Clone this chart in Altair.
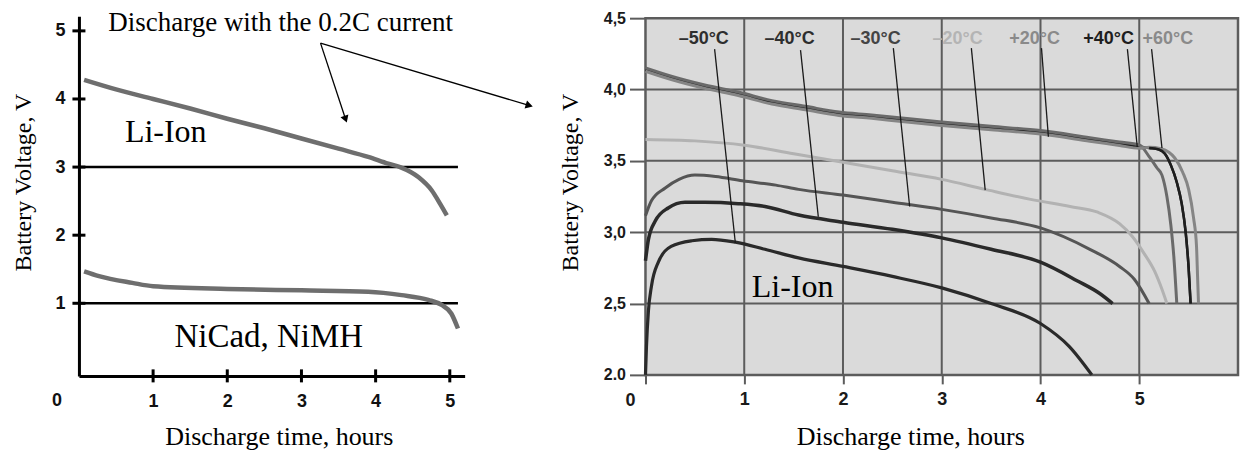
import altair as alt
import pandas as pd

# ---------------- left chart data ----------------
li_t = [0.07, 0.5, 1.0, 1.5, 2.0, 2.5, 3.0, 3.5, 3.9, 4.17, 4.33, 4.58, 4.755, 4.87, 4.96]
li_v = [4.28, 4.14, 4.00, 3.86, 3.71, 3.57, 3.42, 3.27, 3.15, 3.05, 3.00, 2.85, 2.66, 2.46, 2.29]
ni_t = [0.07, 0.27, 0.72, 1.0, 2.0, 3.0, 3.9, 4.35, 4.71, 4.89, 5.02, 5.11]
ni_v = [1.47, 1.40, 1.30, 1.25, 1.21, 1.19, 1.17, 1.12, 1.05, 0.975, 0.85, 0.63]
left_ticks = [1, 2, 3, 4, 5]
ref_levels = [3, 1]
ref_end = 5.11

left_texts = ["Discharge with the 0.2C current", "Li-Ion", "NiCad, NiMH"]
left_text_t = [2.72, 1.17, 2.56]
left_text_v = [5.11, 3.514, 0.506]
left_text_size = [27, 32, 33]

arrow_from_t = [3.257, 3.257]
arrow_from_v = [4.82, 4.82]
arrow_to_t = [3.59, 6.056]
arrow_to_v = [3.72, 3.91]
arrow_angle = [161, 107]

# ---------------- right chart data ----------------
band_t = [0, 0.27, 0.6, 0.94, 1.28, 1.62, 1.96, 2.29, 2.57, 3.0, 3.5, 4.0, 4.5, 4.8, 5.0]
band_v = [4.14, 4.08, 4.02, 3.97, 3.91, 3.87, 3.83, 3.81, 3.79, 3.76, 3.73, 3.70, 3.65, 3.62, 3.60]

m50_t = [0.0, 0.01, 0.03, 0.06, 0.13, 0.26, 0.47, 0.67, 0.91, 1.21, 1.55, 2.0, 2.5, 3.0, 3.5, 4.0, 4.29, 4.52]
m50_v = [2.0, 2.2, 2.45, 2.62, 2.79, 2.9, 2.94, 2.95, 2.93, 2.88, 2.82, 2.76, 2.69, 2.61, 2.50, 2.36, 2.2, 2.0]
m40_t = [0.0, 0.03, 0.1, 0.23, 0.4, 0.6, 0.94, 1.21, 1.55, 2.0, 2.5, 3.0, 3.5, 4.0, 4.37, 4.6, 4.73]
m40_v = [2.8, 2.95, 3.08, 3.17, 3.21, 3.21, 3.2, 3.18, 3.12, 3.07, 3.02, 2.96, 2.88, 2.79, 2.66, 2.57, 2.5]
m30_t = [0.0, 0.06, 0.2, 0.34, 0.5, 0.71, 0.98, 1.32, 1.55, 2.0, 2.5, 3.0, 3.5, 4.0, 4.5, 4.8, 4.95, 5.1]
m30_v = [3.115, 3.22, 3.31, 3.37, 3.40, 3.39, 3.36, 3.33, 3.30, 3.26, 3.21, 3.16, 3.10, 3.03, 2.88, 2.76, 2.67, 2.5]
m20_t = [0.0, 0.5, 1.0, 1.5, 2.0, 2.5, 3.0, 3.44, 3.9, 4.3, 4.58, 4.8, 4.93, 5.05, 5.16, 5.23, 5.28]
m20_v = [3.65, 3.64, 3.61, 3.55, 3.49, 3.43, 3.37, 3.30, 3.23, 3.18, 3.14, 3.06, 2.97, 2.85, 2.72, 2.6, 2.5]
p20_tail_t = [5.1, 5.18, 5.23, 5.28, 5.32, 5.35, 5.38]
p20_tail_v = [3.53, 3.45, 3.40, 3.25, 3.05, 2.83, 2.5]
p40_tail_t = [5.1, 5.2, 5.26, 5.32, 5.38, 5.43, 5.47, 5.5, 5.52]
p40_tail_v = [3.59, 3.58, 3.55, 3.47, 3.35, 3.20, 3.0, 2.75, 2.5]
p60_tail_t = [5.1, 5.22, 5.3, 5.36, 5.44, 5.5, 5.55, 5.58, 5.59, 5.6]
p60_tail_v = [3.595, 3.585, 3.56, 3.52, 3.42, 3.3, 3.1, 2.9, 2.7, 2.5]

temp_labels = ["\u201350\u00b0C", "\u201340\u00b0C", "\u201330\u00b0C", "\u201320\u00b0C", "+20\u00b0C", "+40\u00b0C", "+60\u00b0C"]
temp_label_t = [0.59, 1.46, 2.33, 3.16, 3.94, 4.69, 5.29]
temp_label_v = [4.353, 4.353, 4.353, 4.353, 4.353, 4.353, 4.353]
temp_colors = ["#2e2e2e", "#2e2e2e", "#444444", "#b4b4b4", "#8a8a8a", "#1e1e1e", "#8a8a8a"]

leader_t = [0.70, 1.57, 2.51, 3.30, 4.01, 4.88, 5.125]
leader_v = [4.283, 4.276, 4.29, 4.29, 4.29, 4.283, 4.283]
leader_t2 = [0.91, 1.75, 2.675, 3.44, 4.08, 4.98, 5.23]
leader_v2 = [2.924, 3.108, 3.18, 3.295, 3.669, 3.597, 3.59]

right_xticks = [0, 1, 2, 3, 4, 5]
right_yticks = [2.0, 2.5, 3.0, 3.5, 4.0, 4.5]
right_xmax = 6
right_vmin, right_vmax = 2.0, 4.5

SERIF = "Liberation Serif"
SANS = "Liberation Sans"

# ================= LEFT CHART =================
LW, LH = 386, 360
L_TMAX, L_VMIN, L_VMAX = 5.2, -0.066, 5.216
lx = alt.Scale(domain=[0, L_TMAX], nice=False, zero=False)
ly = alt.Scale(domain=[L_VMIN, L_VMAX], nice=False, zero=False)
px_per_t = LW / L_TMAX
px_per_v = LH / (L_VMAX - L_VMIN)

left_x_axis = alt.Axis(values=left_ticks, format="d", grid=False, ticks=False, domain=True,
                       domainColor="black", domainWidth=3,
                       labelFont=SANS, labelFontWeight="bold", labelFontSize=18,
                       labelColor="#111", labelPadding=17,
                       title="Discharge time, hours", titleFont=SERIF, titleFontSize=26,
                       titleFontWeight="normal", titleColor="black",
                       titleX=200, titleY=61, titleBaseline="middle")
left_y_axis = alt.Axis(values=left_ticks, format="d", grid=False, ticks=False, domain=True,
                       domainColor="black", domainWidth=3,
                       labelFont=SANS, labelFontWeight="bold", labelFontSize=18,
                       labelColor="#111", labelPadding=14,
                       title="Battery Voltage, V", titleFont=SERIF, titleFontSize=24,
                       titleFontWeight="normal", titleColor="black",
                       titleX=-55, titleY=166, titleBaseline="middle")

li_df = pd.DataFrame({"t": li_t, "v": li_v})
ni_df = pd.DataFrame({"t": ni_t, "v": ni_v})

li_line = alt.Chart(li_df).mark_line(color="#6e6e6e", strokeWidth=4.5, interpolate="monotone").encode(
    x=alt.X("t:Q", scale=lx, axis=left_x_axis),
    y=alt.Y("v:Q", scale=ly, axis=left_y_axis),
)
ni_line = alt.Chart(ni_df).mark_line(color="#6e6e6e", strokeWidth=4.5, interpolate="monotone").encode(
    x=alt.X("t:Q", scale=lx), y=alt.Y("v:Q", scale=ly)
)

ref_df = pd.DataFrame({"v": ref_levels, "t0": [0] * len(ref_levels), "t1": [ref_end] * len(ref_levels)})
ref_rules = alt.Chart(ref_df).mark_rule(color="black", strokeWidth=2.5).encode(
    x=alt.X("t0:Q", scale=lx), x2="t1:Q", y=alt.Y("v:Q", scale=ly)
)

# crossing tick marks on both axes (half length in pixels converted to data units)
half_tick_px = 6.5
ytick_df = pd.DataFrame({"v": left_ticks,
                         "t0": [-half_tick_px / px_per_t] * len(left_ticks),
                         "t1": [half_tick_px / px_per_t] * len(left_ticks)})
yticks = alt.Chart(ytick_df).mark_rule(color="black", strokeWidth=3).encode(
    x=alt.X("t0:Q", scale=lx), x2="t1:Q", y=alt.Y("v:Q", scale=ly)
)
xtick_df = pd.DataFrame({"t": left_ticks,
                         "v0": [L_VMIN - half_tick_px / px_per_v] * len(left_ticks),
                         "v1": [L_VMIN + half_tick_px / px_per_v] * len(left_ticks)})
xticks = alt.Chart(xtick_df).mark_rule(color="black", strokeWidth=3).encode(
    x=alt.X("t:Q", scale=lx), y=alt.Y("v0:Q", scale=ly), y2="v1:Q"
)

origin_df = pd.DataFrame({"t": [0], "v": [L_VMIN], "s": ["0"]})
left_origin = alt.Chart(origin_df).mark_text(font=SANS, fontWeight="bold", fontSize=18, color="#111",
                                             dx=-22, dy=25).encode(
    x=alt.X("t:Q", scale=lx), y=alt.Y("v:Q", scale=ly), text="s:N"
)

ltxt_df = pd.DataFrame({"s": left_texts, "t": left_text_t, "v": left_text_v, "fs": left_text_size})
left_text = alt.Chart(ltxt_df).mark_text(font=SERIF, color="black", baseline="middle").encode(
    x=alt.X("t:Q", scale=lx), y=alt.Y("v:Q", scale=ly), text="s:N",
    size=alt.Size("fs:Q", scale=None, legend=None),
)

arr_df = pd.DataFrame({"t": arrow_from_t, "v": arrow_from_v, "t2": arrow_to_t, "v2": arrow_to_v,
                       "a": arrow_angle})
arrows = alt.Chart(arr_df).mark_rule(color="black", strokeWidth=1.3).encode(
    x=alt.X("t:Q", scale=lx), y=alt.Y("v:Q", scale=ly), x2="t2:Q", y2="v2:Q"
)
heads = alt.Chart(arr_df).mark_point(shape="triangle", filled=True, color="black", size=70, opacity=1).encode(
    x=alt.X("t2:Q", scale=lx), y=alt.Y("v2:Q", scale=ly),
    angle=alt.Angle("a:Q", scale=None),
)

left = alt.layer(ref_rules, li_line, ni_line, yticks, xticks, left_origin, left_text, arrows, heads).properties(
    width=LW, height=LH
)

# ================= RIGHT CHART =================
RW, RH = 593, 359
rx = alt.Scale(domain=[0, right_xmax], nice=False, zero=False)
ry = alt.Scale(domain=[right_vmin, 4.514], nice=False, zero=False)
GRID = "#5c5c5c"

right_x_axis = alt.Axis(values=right_xticks, format="d", grid=False, domain=False, ticks=True, tickSize=9,
                        tickColor=GRID, tickWidth=2,
                        labelExpr="datum.value == 0 ? '' : datum.label",
                        labelFont=SANS, labelFontWeight="bold", labelFontSize=18, labelColor="#1a1a1a",
                        labelPadding=7,
                        title="Discharge time, hours", titleFont=SERIF, titleFontSize=26,
                        titleFontWeight="normal", titleColor="black",
                        titleX=265, titleY=62, titleBaseline="middle")
right_y_axis = alt.Axis(values=right_yticks, grid=False, domain=False, ticks=True, tickSize=16,
                        tickColor=GRID, tickWidth=2,
                        labelExpr="datum.value == 2 ? '2.0' : replace(format(datum.value, '.1f'), '.', ',')",
                        labelFont=SANS, labelFontWeight="bold", labelFontSize=16, labelColor="#1a1a1a",
                        labelPadding=4,
                        title="Battery Voltage, V", titleFont=SERIF, titleFontSize=24,
                        titleFontWeight="normal", titleColor="black",
                        titleX=-75, titleY=166, titleBaseline="middle")

bg_df = pd.DataFrame({"t0": [0], "t1": [right_xmax], "v0": [right_vmin], "v1": [right_vmax]})
bg = alt.Chart(bg_df).mark_rect(fill="#dadada", stroke=GRID, strokeWidth=2.5).encode(
    x=alt.X("t0:Q", scale=rx, axis=right_x_axis), x2="t1:Q",
    y=alt.Y("v0:Q", scale=ry, axis=right_y_axis), y2="v1:Q",
)

vg_df = pd.DataFrame({"t": right_xticks[1:], "v0": right_vmin, "v1": right_vmax})
vgrid = alt.Chart(vg_df).mark_rule(color=GRID, strokeWidth=2).encode(
    x=alt.X("t:Q", scale=rx), y=alt.Y("v0:Q", scale=ry), y2="v1:Q"
)
hg_df = pd.DataFrame({"v": right_yticks[1:-1], "t0": 0, "t1": right_xmax})
hgrid = alt.Chart(hg_df).mark_rule(color=GRID, strokeWidth=2).encode(
    y=alt.Y("v:Q", scale=ry), x=alt.X("t0:Q", scale=rx), x2="t1:Q"
)


def curve(ts, vs, color, width):
    df = pd.DataFrame({"t": ts, "v": vs})
    return alt.Chart(df).mark_line(color=color, strokeWidth=width, interpolate="monotone").encode(
        x=alt.X("t:Q", scale=rx), y=alt.Y("v:Q", scale=ry)
    )


p40 = curve(band_t + p40_tail_t, band_v + p40_tail_v, "#1e1e1e", 2.5)
p20 = curve(band_t + p20_tail_t, [v + 0.012 for v in band_v] + p20_tail_v, "#6a6a6a", 3)
p60 = curve(band_t + p60_tail_t, [v - 0.012 for v in band_v] + p60_tail_v, "#858585", 3)
c20 = curve(m20_t, m20_v, "#b2b2b2", 3)
c30 = curve(m30_t, m30_v, "#555555", 3)
c40 = curve(m40_t, m40_v, "#2a2a2a", 3.5)
c50 = curve(m50_t, m50_v, "#2a2a2a", 3.2)
p40_tail = curve(p40_tail_t, p40_tail_v, "#1e1e1e", 2.5)

ld_df = pd.DataFrame({"t": leader_t, "v": leader_v, "t2": leader_t2, "v2": leader_v2})
leaders = alt.Chart(ld_df).mark_rule(color="#1a1a1a", strokeWidth=1.3).encode(
    x=alt.X("t:Q", scale=rx), y=alt.Y("v:Q", scale=ry), x2="t2:Q", y2="v2:Q"
)

tl_df = pd.DataFrame({"s": temp_labels, "t": temp_label_t, "v": temp_label_v, "c": temp_colors})
tlabels = alt.Chart(tl_df).mark_text(font=SANS, fontWeight="bold", fontSize=18, baseline="middle").encode(
    x=alt.X("t:Q", scale=rx), y=alt.Y("v:Q", scale=ry), text="s:N",
    color=alt.Color("c:N", scale=None, legend=None),
)

rtxt_df = pd.DataFrame({"s": ["Li-Ion"], "t": [1.49], "v": [2.616]})
rtext = alt.Chart(rtxt_df).mark_text(font=SERIF, fontSize=32, color="black", baseline="middle").encode(
    x=alt.X("t:Q", scale=rx), y=alt.Y("v:Q", scale=ry), text="s:N"
)

rorigin_df = pd.DataFrame({"t": [0], "v": [right_vmin], "s": ["0"]})
right_origin = alt.Chart(rorigin_df).mark_text(font=SANS, fontWeight="bold", fontSize=18, color="#1a1a1a",
                                               dx=-15, dy=26).encode(
    x=alt.X("t:Q", scale=rx), y=alt.Y("v:Q", scale=ry), text="s:N"
)

right = alt.layer(bg, vgrid, hgrid, p40, p20, p60, p40_tail, c20, c30, c40, c50, leaders, tlabels, rtext,
                  right_origin).properties(width=RW, height=RH)

chart = alt.HConcatChart(hconcat=[left, right], spacing=181, bounds="flush").properties(
    padding={"left": 12, "top": 9, "right": 2, "bottom": 0},
    background="white",
).configure_view(stroke=None)

chart.save("out.html", embed_options={"renderer": "svg", "actions": False})
